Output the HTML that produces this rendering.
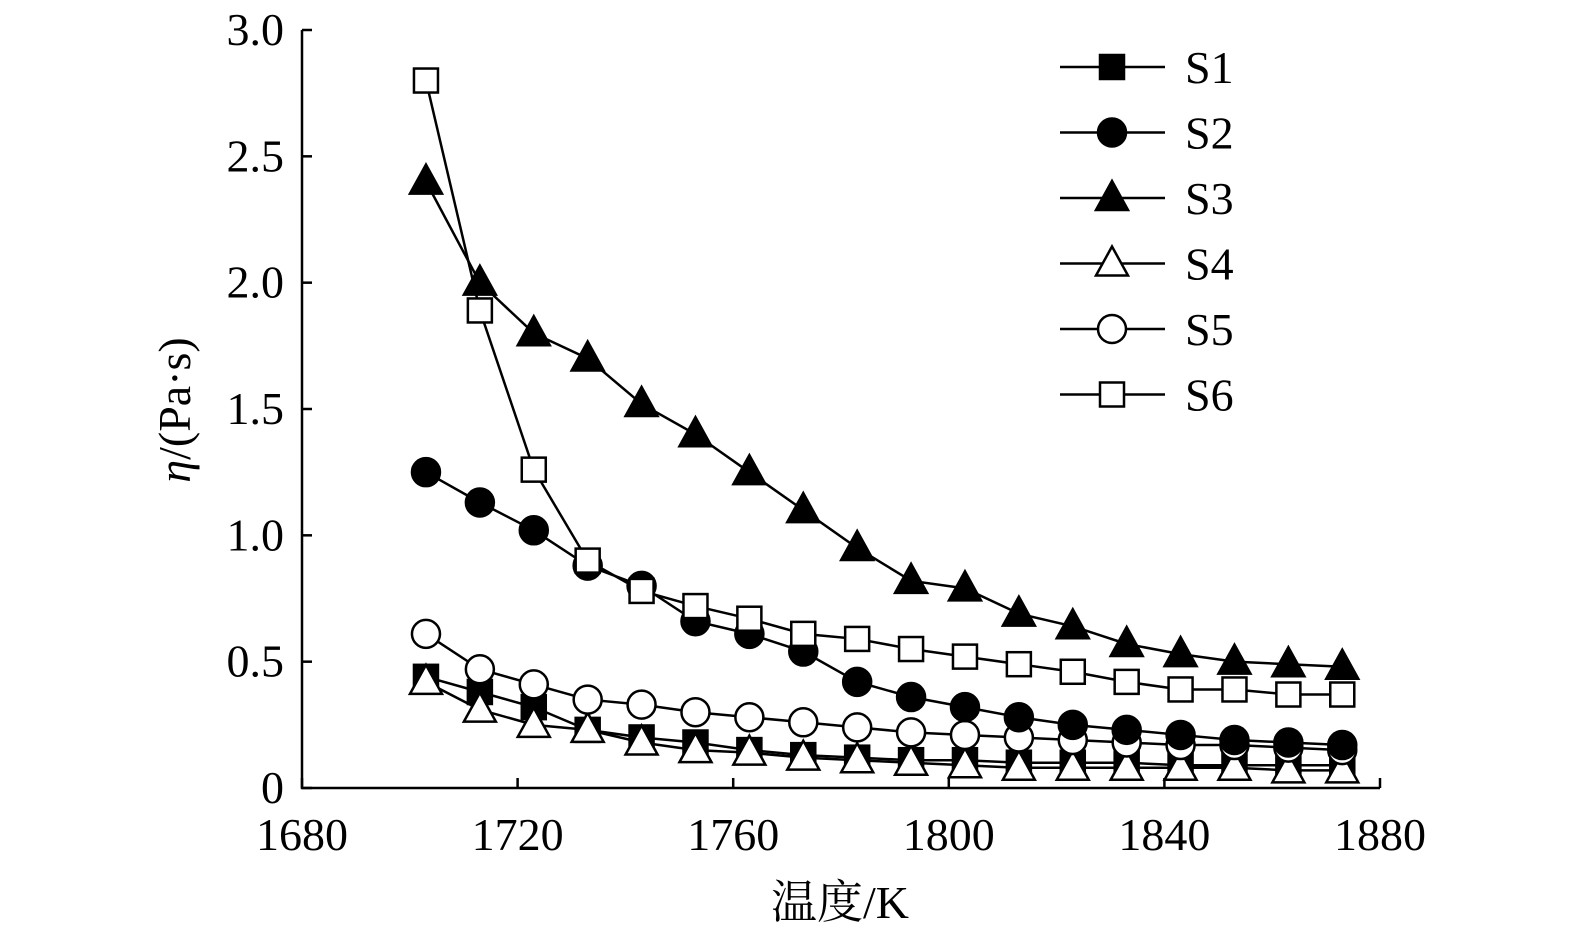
<!DOCTYPE html>
<html><head><meta charset="utf-8"><style>
html,body{margin:0;padding:0;background:#fff;}
svg{display:block;font-family:"Liberation Serif","Noto Serif CJK SC",serif;}
</style></head><body>
<svg id="chart" width="1575" height="940" viewBox="0 0 1575 940" xmlns="http://www.w3.org/2000/svg"></svg>
<script>
const temps=[1703,1713,1723,1733,1743,1753,1763,1773,1783,1793,1803,1813,1823,1833,1843,1853,1863,1873];
const s1=[0.44,0.38,0.32,0.23,0.2,0.18,0.15,0.13,0.12,0.11,0.11,0.1,0.1,0.1,0.09,0.09,0.09,0.09];
const s2=[1.25,1.13,1.02,0.88,0.8,0.66,0.61,0.54,0.42,0.36,0.32,0.28,0.25,0.23,0.21,0.19,0.18,0.17];
const s3=[2.4,2.0,1.8,1.7,1.52,1.4,1.25,1.1,0.95,0.82,0.79,0.69,0.64,0.57,0.53,0.5,0.49,0.48];
const s4=[0.42,0.31,0.25,0.23,0.18,0.15,0.14,0.12,0.11,0.1,0.09,0.08,0.08,0.08,0.08,0.08,0.07,0.07];
const s5=[0.61,0.47,0.41,0.35,0.33,0.3,0.28,0.26,0.24,0.22,0.21,0.2,0.19,0.18,0.17,0.17,0.16,0.15];
const s6=[2.8,1.89,1.26,0.9,0.78,0.72,0.67,0.61,0.59,0.55,0.52,0.49,0.46,0.42,0.39,0.39,0.37,0.37];
const xTicks=[1680,1720,1760,1800,1840,1880];
const yTicks=[0,0.5,1.0,1.5,2.0,2.5,3.0];
const yTickLabels=["0","0.5","1.0","1.5","2.0","2.5","3.0"];
const seriesNames=["S1","S2","S3","S4","S5","S6"];

const svg=document.getElementById('chart');
const NS='http://www.w3.org/2000/svg';
const X0=302,X1=1380,Y0=788,Y1=30;
const x=v=>X0+(v-1680)/200*(X1-X0);
const y=v=>Y0-v/3*(Y0-Y1);
function mk(tag,attrs,parent){const e=document.createElementNS(NS,tag);for(const k in attrs)e.setAttribute(k,attrs[k]);(parent||svg).appendChild(e);return e;}

// axes
const ax=mk('path',{d:`M${X0} ${Y1} L${X0} ${Y0} L${X1} ${Y0}`,fill:'none',stroke:'#000','stroke-width':2.5});


xTicks.forEach(t=>{
  const l=mk('line',{x1:x(t),x2:x(t),y1:Y0,y2:Y0-10,stroke:'#000','stroke-width':2.5});
  
  
  const tx=mk('text',{x:x(t),y:850,'font-size':46,'text-anchor':'middle'});
  tx.textContent=t;
  
  
});
yTicks.forEach((t,i)=>{
  const l=mk('line',{x1:X0,x2:X0+10,y1:y(t),y2:y(t),stroke:'#000','stroke-width':2.5});
  
  
  const tx=mk('text',{x:284,y:y(t)+15,'font-size':46,'text-anchor':'end'});
  tx.textContent=yTickLabels[i];
  
  
});
const xt=mk('text',{x:840,y:918,'font-size':46,'text-anchor':'middle'});
xt.textContent='温度/K';


const yt=mk('text',{x:0,y:0,'font-size':46,'text-anchor':'middle',transform:'translate(190,410) rotate(-90)'});
yt.innerHTML='<tspan font-style="italic">η</tspan>/(Pa·s)';



function marker(type,cx,cy,g){
  const fill=(type==='sq'||type==='ci'||type==='tr')?'#000':'#fff';
  const st={stroke:'#000','stroke-width':2.5,fill:fill};
  let e;
  if(type==='sq'||type==='osq') e=mk('rect',Object.assign({x:cx-12,y:cy-12,width:24,height:24},st),g);
  else if(type==='ci'||type==='oci') e=mk('circle',Object.assign({cx:cx,cy:cy,r:14},st),g);
  else e=mk('polygon',Object.assign({points:`${cx},${cy-17} ${cx+16},${cy+12} ${cx-16},${cy+12}`},st),g);
  
  
}
const all=[s1,s2,s3,s4,s5,s6];
const types=['sq','ci','tr','otr','oci','osq'];
const order=[0,3,4,1,5,2];
order.forEach(i=>{
  const g=mk('g',{});
  
  
  const d=all[i].map((v,j)=>(j?'L':'M')+x(temps[j])+' '+y(v)).join(' ');
  mk('path',{d:d,fill:'none',stroke:'#000','stroke-width':2.5},g);
  all[i].forEach((v,j)=>marker(types[i],x(temps[j]),y(v),g));
});
// legend
const lg=mk('g',{});


seriesNames.forEach((n,i)=>{
  const yy=67+i*65.5;
  const g=mk('g',{},lg);
  
  
  mk('line',{x1:1060,x2:1165,y1:yy,y2:yy,stroke:'#000','stroke-width':2.5},g);
  marker(types[i],1112,yy,g);
  const t=mk('text',{x:1185,y:yy+16,'font-size':46},g);
  t.textContent=n;
});
</script>
</body></html>
